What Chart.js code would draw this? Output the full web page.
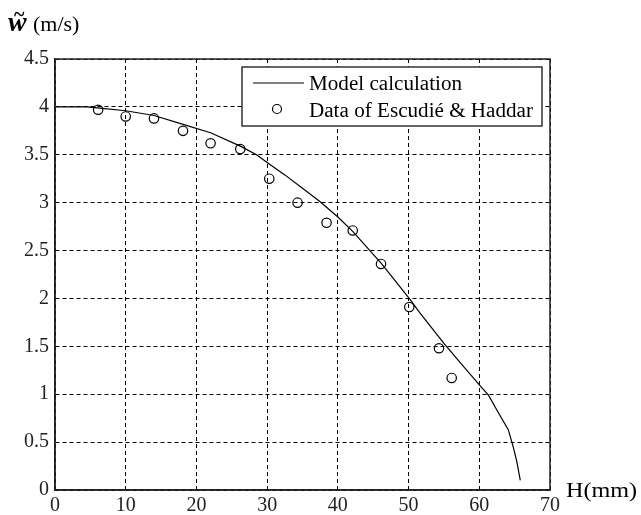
<!DOCTYPE html>
<html>
<head>
<meta charset="utf-8">
<script src="https://cdn.jsdelivr.net/npm/chart.js@4"></script>
<style>
  html, body { margin: 0; padding: 0; background: #fff; }
  #wrap { width: 641px; height: 515px; position: relative; }
</style>
</head>
<body>
<div id="wrap"><canvas id="chartW" width="641" height="515"></canvas></div>
<script>
  // model curve (H in mm, w in m/s)
  const hModel = [0, 4.5, 6, 10, 14, 18, 22, 26.2, 28.5, 30, 32.5, 35, 37.5, 40, 42.1, 46.2, 50.2, 51.6, 55, 58, 60.1, 61.3, 62.6, 64.1, 64.8, 65.3, 65.8];
  const wModel = [4.0, 4.0, 3.99, 3.96, 3.91, 3.82, 3.73, 3.59, 3.50, 3.42, 3.29, 3.15, 3.01, 2.85, 2.70, 2.36, 1.99, 1.85, 1.53, 1.27, 1.09, 0.99, 0.82, 0.63, 0.45, 0.30, 0.10];

  // measured points (Escudié & Haddar)
  const hData = [6.1, 10.0, 14.0, 18.1, 22.0, 26.2, 30.3, 34.3, 38.4, 42.1, 46.1, 50.1, 54.3, 56.1];
  const wData = [3.97, 3.90, 3.88, 3.75, 3.62, 3.56, 3.25, 3.00, 2.79, 2.71, 2.36, 1.91, 1.48, 1.17];

  const legendLabels = ['Model calculation', 'Data of Escudi\u00e9 & Haddar'];
  const xLabel = 'H(mm)';
  const yUnit = '(m/s)';

  const serif = 'Liberation Serif, Tinos, Times New Roman, serif';

  const toXY = (xs, ys) => xs.map((x, i) => ({ x: x, y: ys[i] }));

  // text drawn a bit wider than the font, like the scanned figure
  function wideText(c, txt, x, y, sx) {
    c.save();
    c.translate(x, y);
    c.scale(sx, 1);
    c.fillText(txt, 0, 0);
    c.restore();
  }

  const extras = {
    id: 'extras',
    afterDraw(chart) {
      const c = chart.ctx;
      const a = chart.chartArea;
      c.save();
      // full box
      c.strokeStyle = '#222';
      c.lineWidth = 1.5;
      c.strokeRect(a.left, a.top, a.right - a.left, a.bottom - a.top);

      // legend
      const lx = 242, ly = 67, lw = 300, lh = 59;
      c.fillStyle = '#fff';
      c.fillRect(lx, ly, lw, lh);
      c.strokeStyle = '#333';
      c.lineWidth = 1.5;
      c.strokeRect(lx, ly, lw, lh);
      c.strokeStyle = '#000';
      c.lineWidth = 1.2;
      c.beginPath();
      c.moveTo(253, 83);
      c.lineTo(304, 83);
      c.stroke();
      c.beginPath();
      c.arc(277, 109, 4.5, 0, Math.PI * 2);
      c.stroke();
      c.fillStyle = '#000';
      c.font = '20px ' + serif;
      c.textBaseline = 'alphabetic';
      c.textAlign = 'left';
      const sx = 224 / c.measureText(legendLabels[1]).width;
      wideText(c, legendLabels[0], 309, 90, sx);
      wideText(c, legendLabels[1], 309, 117, sx);

      // axis titles
      c.font = '21px ' + serif;
      wideText(c, xLabel, 566, 497, 1.15);
      c.font = 'italic bold 28px ' + serif;
      c.fillText('w', 8, 31);
      c.font = 'bold 20px ' + serif;
      c.fillText('~', 14, 21);
      c.font = '20px ' + serif;
      wideText(c, yUnit, 33, 31, 1.1);
      c.restore();
    }
  };

  const ctx = document.getElementById('chartW');

  new Chart(ctx, {
    type: 'scatter',
    data: {
      datasets: [{
        label: legendLabels[0],
        data: toXY(hModel, wModel),
        showLine: true,
        borderColor: '#000',
        borderWidth: 1.2,
        pointRadius: 0,
        tension: 0
      }, {
        label: legendLabels[1],
        data: toXY(hData, wData),
        showLine: false,
        pointStyle: 'circle',
        pointRadius: 4.7,
        pointBorderWidth: 1.2,
        pointBorderColor: '#000',
        pointBackgroundColor: 'rgba(255,255,255,0)'
      }]
    },
    options: {
      responsive: false,
      animation: false,
      layout: { padding: { left: 0, top: 59, right: 91, bottom: 0 } },
      plugins: {
        legend: { display: false },
        tooltip: { enabled: false }
      },
      scales: {
        x: {
          type: 'linear',
          min: 0,
          max: 70,
          afterFit: (s) => { s.height = 25; },
          ticks: {
            stepSize: 10,
            color: '#222',
            padding: 4,
            maxRotation: 0,
            font: { family: serif, size: 20 }
          },
          grid: {
            color: '#000',
            lineWidth: 1,
            drawTicks: false
          },
          border: { display: true, color: '#222', width: 1.5, dash: [4, 3] }
        },
        y: {
          min: 0,
          max: 4.5,
          afterFit: (s) => { s.width = 55; },
          ticks: {
            stepSize: 0.5,
            color: '#222',
            padding: 6,
            font: { family: serif, size: 20 },
            callback: (v) => String(v)
          },
          grid: {
            color: '#000',
            lineWidth: 1,
            drawTicks: false
          },
          border: { display: true, color: '#222', width: 1.5, dash: [4, 3] }
        }
      }
    },
    plugins: [extras]
  });
</script>
</body>
</html>
